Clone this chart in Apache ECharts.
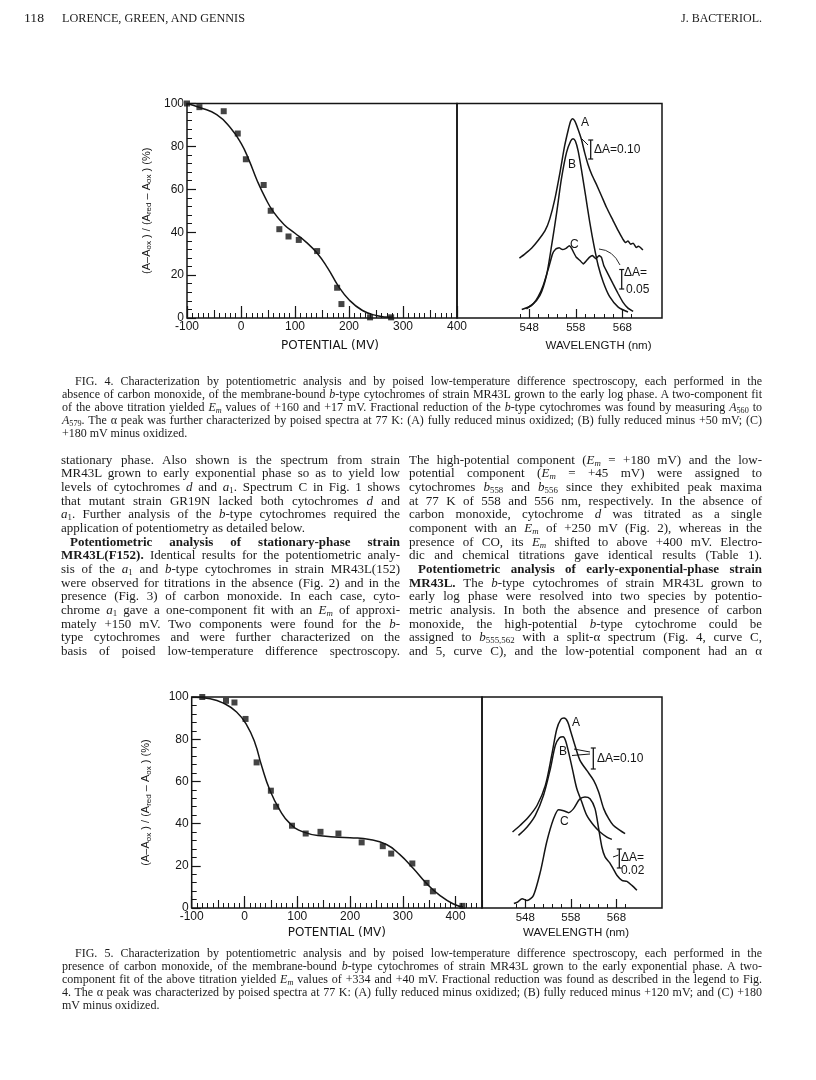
<!DOCTYPE html>
<html>
<head>
<meta charset="utf-8">
<script src="https://cdn.jsdelivr.net/npm/echarts@6/dist/echarts.min.js"></script>
<style>
  html, body { margin:0; padding:0; background:#fff; }
  #page { position:relative; width:816px; height:1080px; overflow:hidden; background:#fff; }
  #chart { position:absolute; left:0; top:0; width:816px; height:1080px; z-index:0; }
  .ln { position:absolute; white-space:nowrap; color:#1a1a1a; z-index:1; }
  .body { font-family:'Liberation Serif', serif; font-size:13px; line-height:13.67px; height:13.67px; }
  .cap { font-family:'Liberation Serif', serif; font-size:12px; line-height:13px; height:13px; }
  .hdr { font-family:'Liberation Serif', serif; font-size:12px; line-height:14px; transform-origin:0 50%; }
  .hdrR { font-family:'Liberation Serif', serif; font-size:12px; line-height:14px; right:54px; top:11px; }
  sub { font-size:0.68em; vertical-align:-0.28em; line-height:0; }
</style>
</head>
<body>
<div id="page">
  <div id="chart"></div>
  <div class="ln hdrR">J. BACTERIOL.</div>
</div>
<script>
// ---------------- DATA ----------------
// Fig. 4, potentiometric titration (absence of CO)
const fig4Potential = [-100, -77, -32, -6, 9, 42, 55, 71, 88, 107, 141, 178, 186, 239, 278];
const fig4Reduction = [100, 98.3, 96.4, 86, 74, 62, 50, 41.4, 38, 36.4, 31.2, 14.1, 6.5, 0.3, 0.3];
const fig4FitPotential = [-100, -75, -45, -20, 0, 15, 30, 45, 60, 80, 100, 120, 140, 160, 180, 200, 225, 250, 280];
const fig4FitReduction = [100, 98, 94.8, 88.8, 81.5, 73.5, 64, 56, 49.5, 43.5, 39.5, 35.5, 30.5, 23.5, 15, 8.5, 3.5, 1.2, 0.3];

// Fig. 4, spectra (arbitrary absorbance units)
const fig4WlA  = [545.9, 547.1, 548.5, 549.9, 551.4, 552.4, 553.5, 554.6, 555.6, 556.4, 556.9, 557.3, 557.8, 558.5, 559.2, 559.9, 560.6, 561.4, 562.4, 563.5, 564.6, 566.0, 567.1, 568.1, 568.7, 569.2, 569.8, 570.3, 571.0, 571.4, 572.4];
const fig4AbsA = [27.9, 29.9, 32.5, 36.1, 40.7, 46.1, 55.4, 67.8, 80.2, 87.9, 91.8, 92.9, 91.8, 87.9, 83.3, 77.1, 71.7, 67.0, 62.4, 57.0, 51.5, 45.4, 40.7, 36.8, 35.2, 35.9, 34.4, 34.9, 32.9, 33.4, 31.7];
const fig4WlB  = [546.4, 548.5, 550.3, 551.7, 552.8, 553.9, 554.9, 556.0, 556.9, 557.4, 557.9, 558.5, 559.2, 560.1, 561.0, 561.9, 562.8, 563.9, 565.3, 567.1, 569.2];
const fig4AbsB = [4.0, 5.9, 10.5, 19.8, 33.7, 49.2, 64.7, 77.1, 82.5, 83.6, 82.5, 77.9, 69.3, 57.0, 44.6, 33.7, 24.5, 16.7, 9.8, 5.1, 2.8];
const fig4WlC  = [547.4, 548.9, 549.9, 551.0, 552.1, 553.0, 553.7, 554.4, 555.1, 555.9, 556.6, 557.1, 557.6, 558.1, 558.9, 559.6, 560.3, 560.9, 561.6, 562.3, 563.0, 563.5, 564.0, 564.9, 566.0, 567.1, 568.1, 569.2, 570.3];
const fig4AbsC = [4.3, 6.7, 9.8, 15.2, 22.9, 29.9, 32.2, 32.8, 31.9, 32.5, 33.7, 32.5, 30.3, 28.3, 26.8, 25.2, 26.8, 28.3, 29.1, 27.6, 29.1, 28.3, 24.5, 20.6, 15.9, 11.3, 7.4, 4.6, 3.1];

// Fig. 5, potentiometric titration (presence of CO)
const fig5Potential = [-80, -62, -35, -19, 2, 23, 50, 60, 90, 116, 144, 178, 222, 262, 278, 318, 345, 357, 413];
const fig5Reduction = [100, 100.5, 98.2, 97.4, 89.6, 69, 55.6, 48, 39, 35.3, 36.1, 35.3, 31.1, 29.3, 25.8, 21.1, 11.9, 7.9, 1];
const fig5FitPotential = [-100, -65, -40, -15, 4, 20, 32, 48, 67, 86, 111, 149, 200, 237, 269, 294, 320, 345, 370, 395, 414];
const fig5FitReduction = [100, 99.2, 97.1, 92.9, 86.8, 78.1, 67.8, 55.9, 46.4, 40.1, 36.1, 34.1, 33.3, 32.5, 30.1, 25.4, 18.7, 11.6, 6, 2, 0.5];

// Fig. 5, spectra
const fig5WlA  = [545.2, 546.9, 548.7, 550.6, 552.4, 553.8, 554.9, 555.8, 556.5, 557.3, 558.0, 559.0, 560.0, 561.5, 563.0, 564.1, 565.2, 566.3, 567.3, 568.8, 569.9];
const fig5AbsA = [36.0, 39.2, 43.1, 48.7, 58.1, 72.4, 84.7, 89.4, 90.0, 88.2, 83.4, 76.3, 70.0, 65.2, 60.5, 55.0, 47.1, 42.3, 39.2, 36.8, 35.2];
const fig5WlB  = [546.5, 548.4, 550.2, 552.0, 553.5, 554.6, 555.5, 556.3, 556.8, 557.5, 558.4, 559.3, 560.4, 561.5, 563.0, 564.4, 565.9, 567.0];
const fig5AbsB = [34.4, 38.4, 43.9, 53.4, 66.0, 77.1, 80.7, 81.2, 79.5, 73.9, 65.2, 56.6, 50.2, 43.9, 39.2, 36.0, 33.6, 32.5];
const fig5WlC  = [545.5, 546.3, 547.3, 548.4, 549.8, 551.3, 552.7, 554.2, 555.3, 556.4, 557.5, 558.6, 559.9, 561.1, 562.2, 563.3, 564.1, 564.8, 565.5, 566.5, 567.3, 568.1, 569.2, 570.3, 571.4, 572.5];
const fig5AbsC = [2.1, 2.8, 4.4, 3.5, 6.0, 17.1, 31.3, 42.3, 46.6, 46.1, 45.2, 47.1, 51.5, 52.6, 51.8, 47.1, 37.6, 28.9, 24.2, 21.5, 18.6, 15.5, 13.1, 12.6, 10.7, 8.4];

// Tick labels
const potentialLabels = [-100, 0, 100, 200, 300, 400];
const reductionLabels = [0, 20, 40, 60, 80, 100];
const wavelengthLabels = [548, 558, 568];
const wavelengthTicks = [546, 548, 550, 552, 554, 556, 558, 560, 562, 564, 566, 568, 570];

// ---------------- TEXT ----------------
const header = [
  {x: 24, w: 20, html: '118'},
  {x: 62, w: 183, html: 'LORENCE, GREEN, AND GENNIS'}
];
const leftCol = [
  'stationary phase. Also shown is the spectrum from strain',
  'MR43L grown to early exponential phase so as to yield low',
  'levels of cytochromes <i>d</i> and <i>a</i><sub>1</sub>. Spectrum C in Fig. 1 shows',
  'that mutant strain GR19N lacked both cytochromes <i>d</i> and',
  '<i>a</i><sub>1</sub>. Further analysis of the <i>b</i>-type cytochromes required the',
  '~application of potentiometry as detailed below.',
  '><b>Potentiometric analysis of stationary-phase strain</b>',
  '<b>MR43L(F152).</b> Identical results for the potentiometric analy-',
  'sis of the <i>a</i><sub>1</sub> and <i>b</i>-type cytochromes in strain MR43L(152)',
  'were observed for titrations in the absence (Fig. 2) and in the',
  'presence (Fig. 3) of carbon monoxide. In each case, cyto-',
  'chrome <i>a</i><sub>1</sub> gave a one-component fit with an <i>E<sub>m</sub></i> of approxi-',
  'mately +150 mV. Two components were found for the <i>b</i>-',
  'type cytochromes and were further characterized on the',
  'basis of poised low-temperature difference spectroscopy.'
];
const rightCol = [
  'The high-potential component (<i>E<sub>m</sub></i> = +180 mV) and the low-',
  'potential component (<i>E<sub>m</sub></i> = +45 mV) were assigned to',
  'cytochromes <i>b</i><sub>558</sub> and <i>b</i><sub>556</sub> since they exhibited peak maxima',
  'at 77 K of 558 and 556 nm, respectively. In the absence of',
  'carbon monoxide, cytochrome <i>d</i> was titrated as a single',
  'component with an <i>E<sub>m</sub></i> of +250 mV (Fig. 2), whereas in the',
  'presence of CO, its <i>E<sub>m</sub></i> shifted to above +400 mV. Electro-',
  'dic and chemical titrations gave identical results (Table 1).',
  '><b>Potentiometric analysis of early-exponential-phase strain</b>',
  '<b>MR43L.</b> The <i>b</i>-type cytochromes of strain MR43L grown to',
  'early log phase were resolved into two species by potentio-',
  'metric analysis. In both the absence and presence of carbon',
  'monoxide, the high-potential <i>b</i>-type cytochrome could be',
  'assigned to <i>b</i><sub>555,562</sub> with a split-α spectrum (Fig. 4, curve C,',
  'and 5, curve C), and the low-potential component had an α'
];
const caption4 = [
  '>FIG. 4. Characterization by potentiometric analysis and by poised low-temperature difference spectroscopy, each performed in the',
  'absence of carbon monoxide, of the membrane-bound <i>b</i>-type cytochromes of strain MR43L grown to the early log phase. A two-component fit',
  'of the above titration yielded <i>E<sub>m</sub></i> values of +160 and +17 mV. Fractional reduction of the <i>b</i>-type cytochromes was found by measuring <i>A</i><sub>560</sub> to',
  '<i>A</i><sub>579</sub>. The α peak was further characterized by poised spectra at 77 K: (A) fully reduced minus oxidized; (B) fully reduced minus +50 mV; (C)',
  '~+180 mV minus oxidized.'
];
const caption5 = [
  '>FIG. 5. Characterization by potentiometric analysis and by poised low-temperature difference spectroscopy, each performed in the',
  'presence of carbon monoxide, of the membrane-bound <i>b</i>-type cytochromes of strain MR43L grown to the early exponential phase. A two-',
  'component fit of the above titration yielded <i>E<sub>m</sub></i> values of +334 and +40 mV. Fractional reduction was found as described in the legend to Fig.',
  '4. The α peak was characterized by poised spectra at 77 K: (A) fully reduced minus oxidized; (B) fully reduced minus +120 mV; and (C) +180',
  '~mV minus oxidized.'
];

// ---------------- TEXT LAYOUT ----------------
const page = document.getElementById('page');
const fitters = [];
function fitLine(d, W, last) {
  d.style.letterSpacing = 'normal';
  d.style.wordSpacing = 'normal';
  const span = d.firstChild;
  const nat = span.getBoundingClientRect().width;
  const txt = span.textContent;
  const spaces = (txt.match(/[ \u00a0]/g) || []).length;
  if (last) {
    if (nat > W) d.style.letterSpacing = ((W - nat) / txt.length) + 'px';
    return;
  }
  let ws = spaces ? (W - nat) / spaces : 0;
  if (ws < -1.0) {
    const deficit = (W - nat) + 1.0 * spaces;
    d.style.letterSpacing = (deficit / txt.length) + 'px';
    ws = -1.0;
  }
  d.style.wordSpacing = ws + 'px';
}
function addBlock(lines, cls, x, w, top, pitch, indent) {
  lines.forEach((raw, i) => {
    let html = raw, last = false, ind = 0;
    if (html.startsWith('~')) { last = true; html = html.slice(1); }
    if (html.startsWith('>')) { ind = indent; html = html.slice(1); }
    const d = document.createElement('div');
    d.className = 'ln ' + cls;
    d.style.left = (x + ind) + 'px';
    d.style.top = (top + i * pitch) + 'px';
    d.innerHTML = '<span>' + html + '</span>';
    page.appendChild(d);
    const W = w - ind;
    fitters.push(() => fitLine(d, W, last));
  });
}
header.forEach(h => {
  const d = document.createElement('div');
  d.className = 'ln hdr';
  d.style.left = h.x + 'px'; d.style.top = '11px';
  d.innerHTML = '<span>' + h.html + '</span>';
  page.appendChild(d);
  fitters.push(() => {
    d.style.transform = 'none';
    const nat = d.firstChild.getBoundingClientRect().width;
    d.style.transform = 'scaleX(' + (h.w / nat) + ')';
  });
});
addBlock(leftCol, 'body', 61, 339, 452.5, 13.67, 9);
addBlock(rightCol, 'body', 409, 353, 452.5, 13.67, 9);
addBlock(caption4, 'cap', 62, 700, 374.5, 13, 13);
addBlock(caption5, 'cap', 62, 700, 946.5, 13, 13);
function relayout() { fitters.forEach(f => f()); }
relayout();
if (document.fonts && document.fonts.ready) document.fonts.ready.then(relayout);
setTimeout(relayout, 60);
setTimeout(relayout, 300);

// ---------------- CHART ----------------
const zip = (a, b) => a.map((v, i) => [v, b[i]]);
const INK = '#151515';
const SANS = 'Liberation Sans';
const grids = [
  {left: 187, top: 103.5, width: 270, height: 214.5},
  {left: 457, top: 103.5, width: 205, height: 214.5},
  {left: 191.7, top: 697, width: 290.3, height: 211},
  {left: 482, top: 697, width: 180, height: 211}
].map(g => Object.assign({show: true, borderColor: INK, borderWidth: 1.5, backgroundColor: 'transparent', containLabel: false, outerBoundsMode: 'none'}, g));

function potAxes(grid, max, nameShift, nameGap, showMax) {
  const base = {type: 'value', gridIndex: grid, min: -100, max: max, position: 'bottom',
    axisLine: {show: false, onZero: false}, splitLine: {show: false}};
  return [
    Object.assign({}, base, {
      interval: 100,
      name: 'POTENTIAL (MV)', nameLocation: 'middle', nameGap: nameGap,
      nameTextStyle: {fontFamily: 'DejaVu Sans', fontSize: 12, color: INK, padding: [0, 0, 0, nameShift]},
      axisTick: {show: true, inside: true, length: 12, lineStyle: {color: INK, width: 1.2}},
      axisLabel: {show: true, margin: 3, fontFamily: SANS, fontSize: 12, color: INK, showMaxLabel: showMax,
        formatter: v => potentialLabels.indexOf(v) >= 0 ? String(v) : ''}
    }),
    Object.assign({}, base, {interval: 50, axisLabel: {show: false},
      axisTick: {show: true, inside: true, length: 8, lineStyle: {color: INK, width: 1.1}}}),
    Object.assign({}, base, {interval: 10, axisLabel: {show: false},
      axisTick: {show: true, inside: true, length: 5, lineStyle: {color: INK, width: 1}}})
  ];
}
function wlAxes(grid, min, max, nameShift, nameGap) {
  const base = {type: 'value', gridIndex: grid, min: min, max: max, position: 'bottom',
    axisLine: {show: false, onZero: false}, splitLine: {show: false}};
  return [
    Object.assign({}, base, {
      name: 'WAVELENGTH (nm)', nameLocation: 'middle', nameGap: nameGap,
      nameTextStyle: {fontFamily: SANS, fontSize: 11.5, color: INK, padding: [0, 0, 0, nameShift]},
      axisTick: {show: true, inside: true, length: 4, customValues: wavelengthTicks, lineStyle: {color: INK, width: 1}},
      axisLabel: {show: true, margin: 4, fontFamily: SANS, fontSize: 11.5, color: INK, customValues: wavelengthLabels}
    }),
    Object.assign({}, base, {axisLabel: {show: false},
      axisTick: {show: true, inside: true, length: 9, customValues: wavelengthLabels, lineStyle: {color: INK, width: 1.2}}})
  ];
}
const yName = '(A–A{s|ox} ) / (A{s|red} – A{s|ox} ) (%)';
function redAxis(grid, gap) {
  return {type: 'value', gridIndex: grid, min: 0, max: 100, interval: 20, position: 'left',
    axisLine: {show: false, onZero: false}, splitLine: {show: false},
    name: yName, nameLocation: 'middle', nameRotate: 90, nameGap: gap,
    nameTextStyle: {fontFamily: SANS, fontSize: 11, color: INK,
      rich: {s: {fontFamily: SANS, fontSize: 8, color: INK, padding: [5, 0, 0, 0]}}},
    axisTick: {show: true, inside: true, length: 9, lineStyle: {color: INK, width: 1.2}},
    minorTick: {show: true, splitNumber: 5, length: 5, lineStyle: {color: INK, width: 1}},
    axisLabel: {show: true, margin: 3, fontFamily: SANS, fontSize: 12, color: INK,
      formatter: v => reductionLabels.indexOf(v) >= 0 ? String(v) : ''}
  };
}
function hiddenY(grid) {
  return {type: 'value', gridIndex: grid, min: 0, max: 100, show: false,
    axisLine: {onZero: false}, splitLine: {show: false}};
}

const xAxes = [].concat(
  potAxes(0, 400, 16, 22, true),       // 0,1,2
  wlAxes(1, 532.5, 576.5, 78, 22),      // 3,4
  potAxes(2, 450, 0, 19, false),       // 5,6,7
  wlAxes(3, 538.5, 578, 8, 19)         // 8,9
);
const yAxes = [redAxis(0, 34), hiddenY(1), redAxis(2, 39), hiddenY(3)];

function scatter(x, y, xi, yi) {
  return {type: 'scatter', xAxisIndex: xi, yAxisIndex: yi, data: zip(x, y),
    symbol: 'rect', symbolSize: 6, itemStyle: {color: INK}, silent: true, z: 3};
}
function curve(x, y, xi, yi, smooth) {
  return {type: 'line', xAxisIndex: xi, yAxisIndex: yi, data: zip(x, y), smooth: smooth,
    showSymbol: false, symbol: 'none', lineStyle: {color: INK, width: 1.5}, silent: true, z: 2};
}

// annotation helpers (pixel positions of the figure labels)
function txt(x, y, s, align) {
  return {type: 'text', x: x, y: y, silent: true, z: 10,
    style: {text: s, fill: INK, font: '12px "Liberation Sans"', textAlign: align || 'left', textVerticalAlign: 'middle'}};
}
function line(x1, y1, x2, y2, w) {
  return {type: 'line', silent: true, z: 10, shape: {x1: x1, y1: y1, x2: x2, y2: y2},
    style: {stroke: INK, lineWidth: w || 1}};
}
function ibar(x, y1, y2) {
  return [line(x, y1, x, y2, 1.3), line(x - 2.5, y1, x + 2.5, y1, 1.2), line(x - 2.5, y2, x + 2.5, y2, 1.2)];
}
const graphics = [].concat(
  [txt(581, 123, 'A'), txt(568, 165, 'B'), txt(570, 245, 'C'),
   txt(594, 149.5, 'ΔA=0.10'), txt(624, 272.5, 'ΔA='), txt(626, 289.5, '0.05'),
   line(582, 139, 588, 145),
   {type: 'bezierCurve', silent: true, z: 10, shape: {x1: 599, y1: 249, x2: 620, y2: 265, cpx1: 613, cpy1: 250},
    style: {stroke: INK, lineWidth: 0.9, fill: 'none'}}],
  ibar(590.7, 140, 159),
  ibar(621.7, 269.5, 289),
  [txt(572, 723, 'A'), txt(559, 752, 'B'), txt(560, 822, 'C'),
   txt(597, 758.5, 'ΔA=0.10'), txt(621, 857.5, 'ΔA='), txt(621, 870.5, '0.02'),
   line(574, 749, 590, 752), line(572, 755.5, 590, 754),
   line(613, 857, 618.5, 855)],
  ibar(593.3, 748, 769),
  ibar(619.3, 849, 868)
);

const chart = echarts.init(document.getElementById('chart'), null, {renderer: 'canvas'});
chart.setOption({
  animation: false,
  backgroundColor: 'transparent',
  grid: grids,
  xAxis: xAxes,
  yAxis: yAxes,
  series: [
    curve(fig4FitPotential, fig4FitReduction, 0, 0, true),
    scatter(fig4Potential, fig4Reduction, 0, 0),
    curve(fig4WlA, fig4AbsA, 3, 1, 0.25),
    curve(fig4WlB, fig4AbsB, 3, 1, 0.25),
    curve(fig4WlC, fig4AbsC, 3, 1, 0.1),
    curve(fig5FitPotential, fig5FitReduction, 5, 2, true),
    scatter(fig5Potential, fig5Reduction, 5, 2),
    curve(fig5WlA, fig5AbsA, 8, 3, 0.3),
    curve(fig5WlB, fig5AbsB, 8, 3, 0.3),
    curve(fig5WlC, fig5AbsC, 8, 3, 0.25)
  ],
  graphic: graphics
});
</script>
</body>
</html>
